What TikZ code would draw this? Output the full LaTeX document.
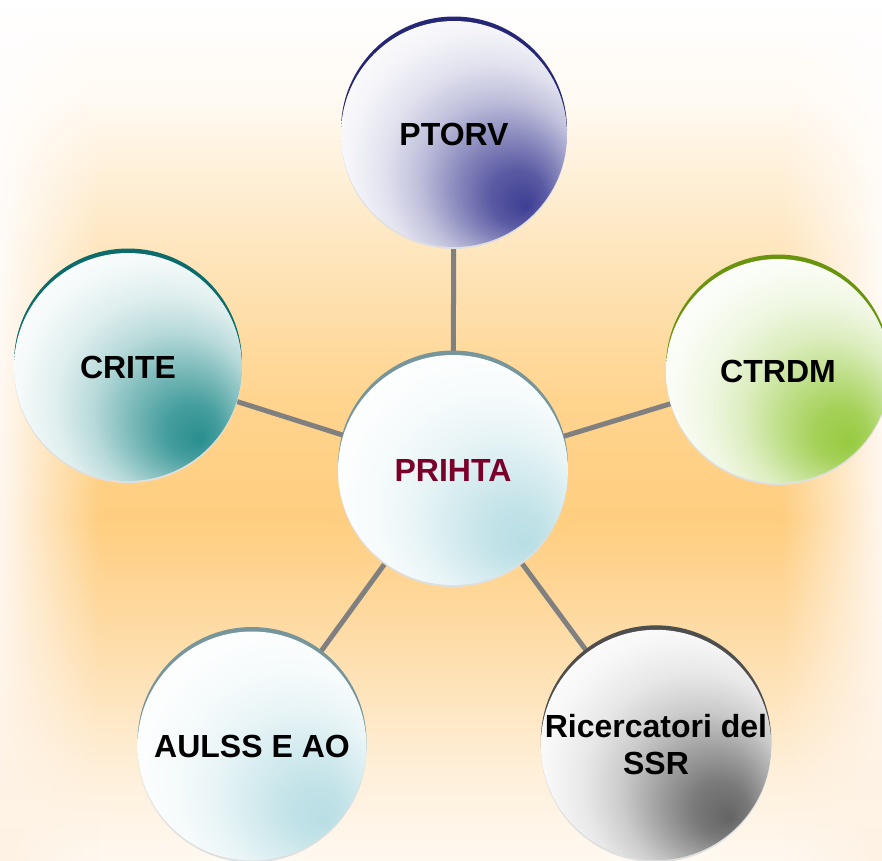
\documentclass[tikz,border=0pt]{standalone}
\usepackage{fontspec}
\setmainfont{Liberation Sans}
\usetikzlibrary{shadows,fadings,backgrounds}

\definecolor{bgwhite}{RGB}{255,255,255}
\definecolor{bgtop}{RGB}{255,250,242}
\definecolor{bgmidup}{RGB}{254,230,190}
\definecolor{bgorange}{RGB}{255,212,142}
\definecolor{bgcore}{RGB}{255,206,128}
\definecolor{bglow}{RGB}{254,222,172}
\definecolor{bglower}{RGB}{254,238,214}
\definecolor{bgbottom}{RGB}{255,249,241}
\definecolor{bgside}{RGB}{254,242,228}

\definecolor{ptorvcol}{RGB}{62,62,148}
\definecolor{ptorvrim}{RGB}{38,38,118}
\definecolor{critecol}{RGB}{40,142,142}
\definecolor{criterim}{RGB}{12,108,108}
\definecolor{ctrdmcol}{RGB}{150,202,62}
\definecolor{ctrdmrim}{RGB}{104,148,14}
\definecolor{prihtacol}{RGB}{184,222,228}
\definecolor{prihtarim}{RGB}{118,150,156}
\definecolor{ricerccol}{RGB}{100,100,100}
\definecolor{ricercrim}{RGB}{78,78,78}
\definecolor{linkgray}{RGB}{128,128,128}
\definecolor{prihtatext}{RGB}{122,0,42}
\colorlet{ballcol}{gray}

\pgfdeclareverticalshading{bgglow}{100bp}{color(0bp)=(bgbottom); color(25bp)=(bgbottom);
  color(30.8bp)=(bglower); color(37.2bp)=(bglow); color(44.8bp)=(bgcore); color(51.7bp)=(bgorange);
  color(60.5bp)=(bgmidup); color(69.2bp)=(bgtop); color(75bp)=(bgwhite); color(100bp)=(bgwhite)}
\pgfdeclareradialshading[ballcol]{ballshade}{\pgfpoint{16bp}{-16bp}}{color(0bp)=(ballcol);
  color(6bp)=(ballcol!86!white); color(12bp)=(ballcol!60!white); color(18bp)=(ballcol!33!white);
  color(24bp)=(ballcol!15!white); color(30bp)=(ballcol!5!white); color(36bp)=(white); color(50bp)=(white)}

\tikzset{
  ball/.style={circle, minimum size=226pt, inner sep=0pt, align=center,
    font=\fontsize{32}{37}\selectfont\bfseries,
    /utils/exec={\colorlet{ballcol}{#1}}, shading=ballshade},
  rim/.style={general shadow={shadow xshift=0pt, shadow yshift=4.5pt, fill=#1}},
  underrim/.style={general shadow={shadow xshift=0pt, shadow yshift=-2pt, fill=gray!25}},
  link/.style={linkgray, line width=5pt},
}

\begin{document}
\begin{tikzpicture}[x=1pt, y=-1pt]
        \useasboundingbox (0,0) rectangle (882,860);

        %% nodes
        \node[ball=prihtacol, underrim, rim=prihtarim, minimum size=230pt, text=prihtatext] (prihta) at (453,470) {PRIHTA};
        \node[ball=ptorvcol, underrim, rim=ptorvrim] (ptorv) at (454,134) {PTORV};
        \node[ball=critecol, underrim, rim=criterim, minimum size=228pt] (crite) at (128,367) {CRITE};
        \node[ball=ctrdmcol, underrim, rim=ctrdmrim, minimum size=224pt] (ctrdm) at (778,371) {CTRDM};
        \node[ball=prihtacol, underrim, rim=prihtarim, minimum size=229pt] (aulss) at (252,746) {AULSS E AO};
        \node[ball=ricerccol, underrim, rim=ricercrim, minimum size=228pt] (ricerc) at (656,745) {Ricercatori del\\SSR};

        \begin{pgfonlayer}{background}
        %% backdrop
        \fill[shading=bgglow] (0,0) rectangle (882,860);
        \shade[top color=bgwhite, bottom color=bgside, path fading=east] (0,0) rectangle (100,860);
        \shade[top color=bgwhite, bottom color=bgside, path fading=west] (782,0) rectangle (882,860);

        %% links
        \draw[link] (prihta.center) -- (ptorv.center);
        \draw[link] (prihta.center) -- (crite.center);
        \draw[link] (prihta.center) -- (ctrdm.center);
        \draw[link] (prihta.center) -- (aulss.center);
        \draw[link] (prihta.center) -- (ricerc.center);
        \end{pgfonlayer}
\end{tikzpicture}
\end{document}
